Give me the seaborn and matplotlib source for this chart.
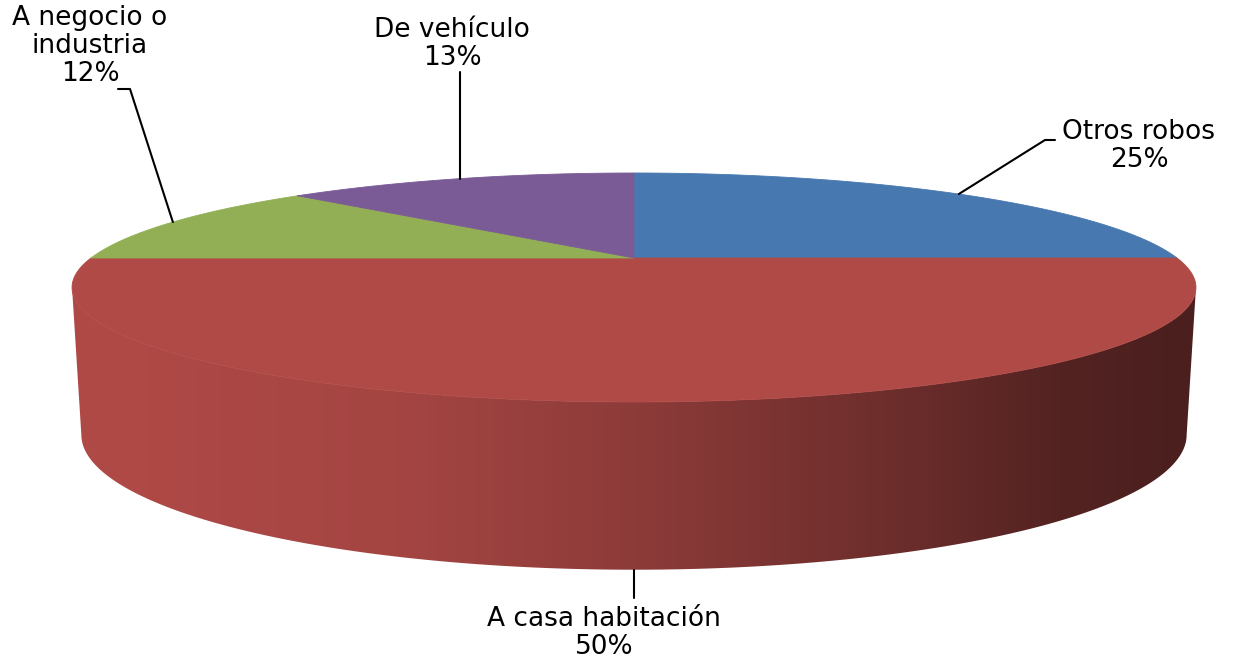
import numpy as np
import matplotlib
matplotlib.use("Agg")
import matplotlib.pyplot as plt
import seaborn as sns
from matplotlib.patches import Polygon
from matplotlib.colors import to_rgb

# ---- data ----
categories = ["Otros robos", "A casa habitación", "A negocio o\nindustria", "De vehículo"]
values = [25, 50, 12, 13]
colors = ["#4878B0", "#B04A47", "#93AF55", "#7A5B96"]

sns.set_theme(style="white")
plt.rcParams['font.family'] = ['DejaVu Sans']

W, H = 1235, 663
fig = plt.figure(figsize=(W / 100, H / 100), dpi=100)
ax = fig.add_axes([0, 0, 1, 1])
ax.set_xlim(0, W)
ax.set_ylim(H, 0)
ax.axis('off')

# ---- perspective pie geometry (layout) ----
cx, cy = 634, 258
A_top, B_top, K = 543, 106.9, 0.2576
cy_bot, A_bot, B_bot = 400, 534, 126


def proj(theta, cyy, a, b):
    X, Y = np.cos(theta), np.sin(theta)
    d = 1 + K * Y
    return cx + a * X / d, cyy - b * Y / d


vals = np.array(values, dtype=float)
fr = vals / vals.sum()
bounds = np.pi / 2 - 2 * np.pi * np.concatenate([[0], np.cumsum(fr)])

vis_hi = -np.arcsin(K)
vis_lo = -np.pi + np.arcsin(K)
xl = cx - A_top / np.sqrt(1 - K ** 2)
xr = cx + A_top / np.sqrt(1 - K ** 2)

xs_img = np.arange(W) + 0.5
t = np.clip((xs_img - xl) / (xr - xl), 0, 1)
shade = np.interp(t, [0, 0.1, 0.3, 0.5, 0.75, 0.88, 1.0],
                  [1.0, 0.98, 0.93, 0.8, 0.6, 0.47, 0.42])

# side walls
for i in range(len(values)):
    a0, a1 = bounds[i], bounds[i + 1]
    hi = min(a0, vis_hi)
    lo = max(a1, vis_lo)
    if hi <= lo:
        continue
    th = np.linspace(hi, lo, 200)
    tx, ty = proj(th, cy, A_top, B_top)
    bx, by = proj(th[::-1], cy_bot, A_bot, B_bot)
    pts = np.column_stack([np.concatenate([tx, bx]), np.concatenate([ty, by])])
    poly = Polygon(pts, closed=True, facecolor='none', edgecolor='none')
    ax.add_patch(poly)
    base = np.array(to_rgb(colors[i]))
    img = np.clip(shade[None, :, None] * base[None, None, :], 0, 1)
    img = np.repeat(img, 2, axis=0)
    im = ax.imshow(img, extent=(0, W, H, 0), aspect='auto', interpolation='bilinear', zorder=1)
    im.set_clip_path(poly)

# top face
for i in range(len(values)):
    th = np.linspace(bounds[i], bounds[i + 1], 300)
    tx, ty = proj(th, cy, A_top, B_top)
    pts = np.column_stack([np.concatenate([[cx], tx]), np.concatenate([[cy], ty])])
    ax.add_patch(Polygon(pts, closed=True, facecolor=colors[i], edgecolor=colors[i],
                         linewidth=0.6, zorder=2))

ax.set_xlim(0, W)
ax.set_ylim(H, 0)

# ---- labels (layout) ----
fs = 19
ls = 1.08
lw = 1.5
mids = (bounds[:-1] + bounds[1:]) / 2
labels = [f"{c}\n{v}%" for c, v in zip(categories, values)]

# Otros robos
axp, ayp = proj(mids[0], cy, A_top, B_top)
ax.plot([axp, 1045, 1055], [ayp, 140, 140], color='black', lw=lw, zorder=3)
ax.text(1139, 146, labels[0], ha='center', va='center', fontsize=fs, linespacing=ls, color='black')

# A casa habitación
bxp, byp = proj(mids[1], cy_bot, A_bot, B_bot)
ax.plot([bxp, bxp], [byp, 598], color='black', lw=lw, zorder=3)
ax.text(604, 633, labels[1], ha='center', va='center', fontsize=fs, linespacing=ls, color='black')

# A negocio o industria
gxp, gyp = proj(mids[2], cy, A_top, B_top)
ax.plot([gxp, 130, 118], [gyp, 89, 89], color='black', lw=lw, zorder=3)
ax.text(90, 46, labels[2], ha='center', va='center', fontsize=fs, linespacing=ls, color='black')

# De vehículo
pxp, pyp = proj(mids[3], cy, A_top, B_top)
ax.plot([pxp, pxp], [pyp, 72], color='black', lw=lw, zorder=3)
ax.text(452, 44, labels[3], ha='center', va='center', fontsize=fs, linespacing=ls, color='black')

fig.savefig("out.png", dpi=100, facecolor='white')
